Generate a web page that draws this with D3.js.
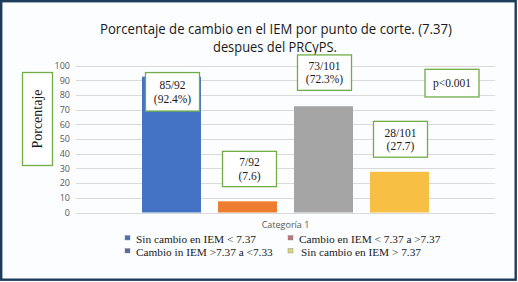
<!DOCTYPE html>
<html>
<head>
<meta charset="utf-8">
<script src="https://cdn.jsdelivr.net/npm/d3@7"></script>
<style>
  body { margin: 0; background: #ffffff; }
  svg { display: block; }
</style>
</head>
<body>
<div id="chart"></div>
<script>
// data
let category = "Categoría 1";
let seriesNames = [
  "Sin cambio en IEM < 7.37",
  "Cambio en IEM < 7.37 a >7.37",
  "Cambio in IEM >7.37 a <7.33",
  "Sin cambio en IEM > 7.37"
];
let seriesValues = [92.4, 7.6, 72.3, 27.7];
let boxLines = [
  ["85/92", "(92.4%)"],
  ["7/92", "(7.6)"],
  ["73/101", "(72.3%)"],
  ["28/101", "(27.7)"]
];
let yTicks = [0, 10, 20, 30, 40, 50, 60, 70, 80, 90, 100];

let barColors = ["#4472c4", "#ed7d31", "#a5a5a5", "#f8bf45"];
let legendColors = ["#4a6fb5", "#b9787a", "#5c6a96", "#d6d27c"];

let w = 518;
let h = 282;

let svg = d3.select("#chart")
  .append("svg")
  .attr("width", w)
  .attr("height", h);

// frame
svg.append("rect")
  .attr("x", 1.2).attr("y", 1.2)
  .attr("width", 514.5).attr("height", 278.5)
  .attr("fill", "#fcfdfe")
  .attr("stroke", "#1d3c5c")
  .attr("stroke-width", 2.4);

// title
let title = svg.append("text")
  .attr("text-anchor", "middle")
  .style("font-family", "'Open Sans', sans-serif")
  .style("font-size", "14px")
  .attr("fill", "#1a1a1a");
title.append("tspan").attr("x", 276).attr("y", 34)
  .attr("textLength", 352).attr("lengthAdjust", "spacingAndGlyphs")
  .text("Porcentaje de cambio en el IEM por punto de corte. (7.37)");
title.append("tspan").attr("x", 275).attr("y", 52)
  .attr("textLength", 124).attr("lengthAdjust", "spacingAndGlyphs")
  .text("despues del PRCyPS.");

// scales
let y = d3.scaleLinear().domain([0, 100]).range([212.5, 65.5]);

let x0 = d3.scaleBand()
  .domain([category])
  .range([76, 495])
  .paddingOuter(0.23);

let x1 = d3.scaleBand()
  .domain(seriesNames)
  .range([0, x0.bandwidth()])
  .paddingInner(0.224);

// grid
svg.append("g")
  .selectAll("line")
  .data(yTicks)
  .join("line")
  .attr("x1", 76).attr("x2", 495)
  .attr("y1", d => Math.round(y(d)) + 0.5)
  .attr("y2", d => Math.round(y(d)) + 0.5)
  .attr("stroke", "#d9d9d9")
  .attr("stroke-width", 1);

// y axis labels
let yAxis = svg.append("g")
  .attr("transform", "translate(70,0)")
  .call(d3.axisLeft(y).tickValues(yTicks).tickSize(0).tickPadding(0));
yAxis.select(".domain").remove();
yAxis.selectAll("text")
  .style("font-family", "'Open Sans', sans-serif")
  .style("font-size", "9px")
  .attr("fill", "#595959");

// bars
let data = seriesNames.map((s, i) => ({ name: s, value: seriesValues[i], color: barColors[i] }));

svg.append("g")
  .attr("transform", `translate(${x0(category)},0)`)
  .selectAll("rect")
  .data(data)
  .join("rect")
  .attr("x", d => x1(d.name))
  .attr("y", d => y(d.value))
  .attr("width", x1.bandwidth())
  .attr("height", d => y(0) - y(d.value))
  .attr("fill", d => d.color);

// category label
svg.append("text")
  .attr("x", x0(category) + x0.bandwidth() / 2)
  .attr("y", 228)
  .attr("text-anchor", "middle")
  .style("font-family", "'Open Sans', sans-serif")
  .style("font-size", "9px")
  .attr("fill", "#595959")
  .text(category);

// annotation boxes (top/bottom in value units, x offset from bar center)
let boxLayout = [
  { dx: 1, top: 95.2, bottom: 69 },
  { dx: 2, top: 41.6, bottom: 17.6 },
  { dx: 1, top: 107.2, bottom: 83.1 },
  { dx: 1, top: 62, bottom: 37.6 }
];
let boxW = 54;
let boxStroke = "#70ad47";

function drawBox(cx, yTop, yBot, lines) {
  let g = svg.append("g");
  g.append("rect")
    .attr("x", cx - boxW / 2)
    .attr("y", yTop)
    .attr("width", boxW)
    .attr("height", yBot - yTop)
    .attr("fill", "#ffffff")
    .attr("stroke", boxStroke)
    .attr("stroke-width", 1.3);
  let mid = (yTop + yBot) / 2;
  let lh = 13.5;
  lines.forEach((t, i) => {
    g.append("text")
      .attr("x", cx)
      .attr("y", mid + (i - (lines.length - 1) / 2) * lh + 4)
      .attr("text-anchor", "middle")
      .style("font-family", "'Liberation Serif', 'Times New Roman', serif")
      .style("font-size", "11.5px")
      .attr("fill", "#1a1a1a")
      .text(t);
  });
}

data.forEach((d, i) => {
  let cx = x0(category) + x1(d.name) + x1.bandwidth() / 2 + boxLayout[i].dx;
  drawBox(cx, y(boxLayout[i].top), y(boxLayout[i].bottom), boxLines[i]);
});

// p-value box
drawBox(452, y(97.4), y(78.6), ["p<0.001"]);

// y title box
svg.append("rect")
  .attr("x", 22.5).attr("y", 72.5)
  .attr("width", 30).attr("height", 93)
  .attr("fill", "#ffffff")
  .attr("stroke", boxStroke)
  .attr("stroke-width", 1.3);
svg.append("text")
  .attr("transform", "translate(42,119) rotate(-90)")
  .attr("text-anchor", "middle")
  .style("font-family", "'Liberation Serif', 'Times New Roman', serif")
  .style("font-size", "14px")
  .attr("fill", "#1a1a1a")
  .text("Porcentaje");

// legend
let legendPos = [
  { x: 125, y: 241, tx: 136 },
  { x: 288, y: 241, tx: 299 },
  { x: 125, y: 254, tx: 136 },
  { x: 288, y: 254, tx: 301 }
];
let legend = svg.append("g");
seriesNames.forEach((s, i) => {
  let p = legendPos[i];
  legend.append("rect")
    .attr("x", p.x).attr("y", p.y - 5.5)
    .attr("width", 5).attr("height", 4.5)
    .attr("fill", legendColors[i])
    .attr("stroke", "#8a8a8a")
    .attr("stroke-width", 0.4);
  legend.append("text")
    .attr("x", p.tx).attr("y", p.y + 2)
    .style("font-family", "'Liberation Serif', 'Times New Roman', serif")
    .style("font-size", "11.3px")
    .attr("fill", "#1a1a1a")
    .text(s);
});
</script>
</body>
</html>
